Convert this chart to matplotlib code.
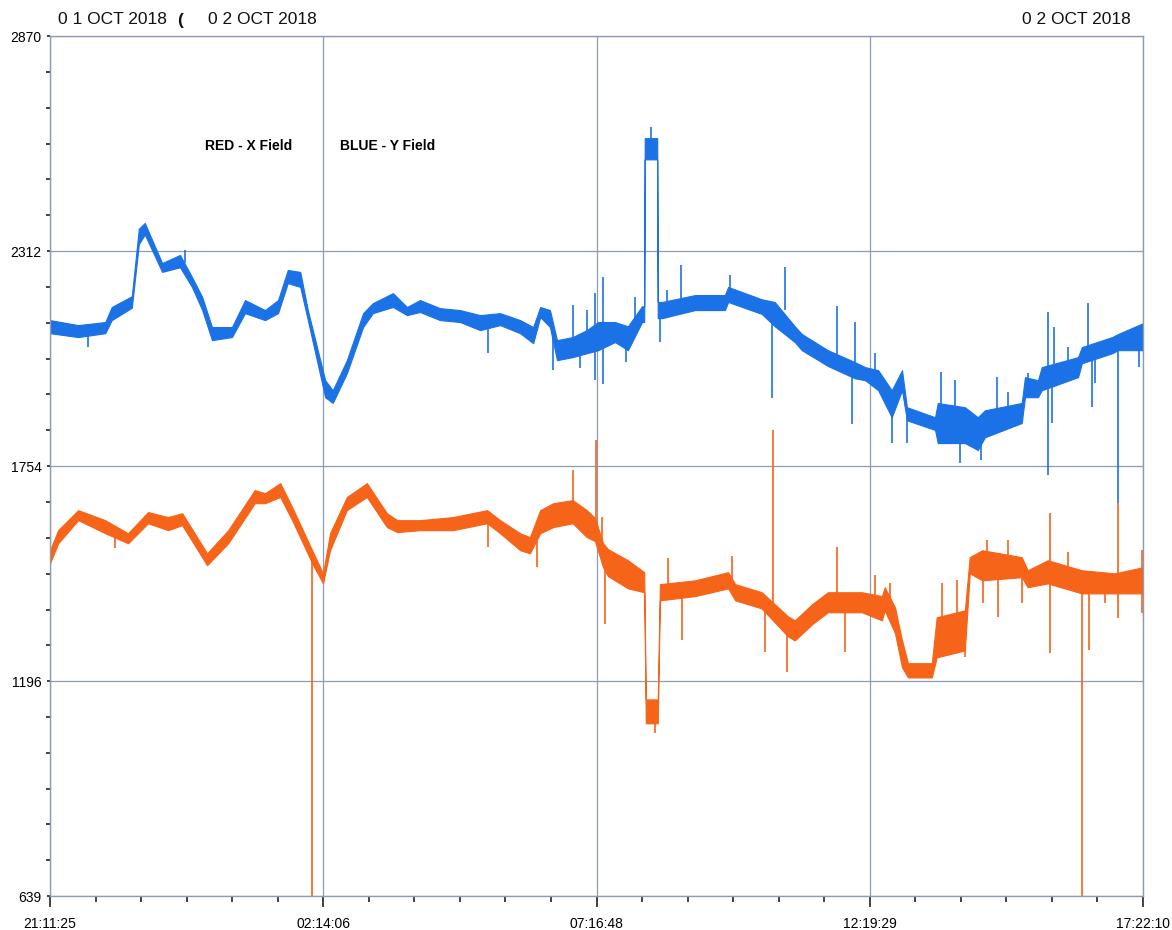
import numpy as np
import matplotlib
matplotlib.use("Agg")
import matplotlib.pyplot as plt

plt.rcParams['font.family'] = ['Liberation Sans', 'DejaVu Sans']

# time axis: hours after 21:11:25 (01 Oct 2018)
tick_labels = ["21:11:25", "02:14:06", "07:16:48", "12:19:29", "17:22:10"]
y_ticks = [639, 1196, 1754, 2312, 2870]

# BLUE - Y field, band of the noisy trace (lower / upper edge)
blue_t = [0.00, 0.52, 1.02, 1.14, 1.51, 1.64, 1.75, 2.07, 2.40, 2.62,
          2.81, 2.99, 3.36, 3.60, 3.97, 4.21, 4.39, 4.62, 4.76, 5.08,
          5.22, 5.48, 5.78, 5.96, 6.33, 6.59, 6.83, 7.20, 7.57, 7.94,
          8.31, 8.68, 8.92, 9.05, 9.23, 9.36, 9.65, 9.91, 10.12, 10.43,
          10.67, 10.93, 10.97, 10.98, 11.21, 11.22, 11.30, 11.91, 12.46, 12.52,
          13.14, 13.38, 13.75, 13.88, 14.36, 14.86, 15.05, 15.29, 15.54, 15.73,
          15.82, 16.34, 16.39, 16.89, 17.13, 17.26, 17.94, 18.00, 18.24, 18.31,
          18.98, 19.05, 19.61, 19.72, 20.18]
blue_hi = [2133, 2120, 2128, 2167, 2195, 2370, 2385, 2281, 2302, 2245,
           2193, 2115, 2115, 2185, 2159, 2185, 2263, 2258, 2159, 1977,
           1951, 2029, 2151, 2177, 2203, 2167, 2185, 2164, 2159, 2146,
           2151, 2133, 2115, 2167, 2159, 2081, 2089, 2107, 2128, 2128,
           2117, 2169, 2169, 2605, 2605, 2180, 2180, 2198, 2198, 2219,
           2187, 2180, 2117, 2097, 2055, 2024, 2011, 2003, 1951, 2003,
           1907, 1881, 1918, 1907, 1881, 1899, 1918, 1985, 1977, 2011,
           2037, 2063, 2089, 2097, 2125]
blue_lo = [2099, 2089, 2099, 2133, 2165, 2330, 2355, 2258, 2270, 2219,
           2159, 2081, 2089, 2151, 2133, 2151, 2229, 2219, 2133, 1933,
           1918, 1995, 2115, 2151, 2167, 2146, 2154, 2133, 2128, 2107,
           2120, 2099, 2073, 2141, 2115, 2029, 2037, 2047, 2055, 2076,
           2055, 2128, 2128, 2550, 2550, 2138, 2138, 2159, 2159, 2180,
           2149, 2117, 2076, 2055, 2014, 1982, 1977, 1951, 1881, 1951,
           1873, 1848, 1814, 1814, 1796, 1829, 1866, 1933, 1933, 1951,
           1985, 2021, 2047, 2055, 2055]

# isolated blue spikes: time, value at the band, value at the tip
blue_spike_t = [0.70, 2.49, 8.09, 9.29, 9.65, 9.78, 9.91, 10.06, 10.06, 10.21,
                10.21, 10.63, 10.80, 11.10, 11.26, 11.39, 11.65, 12.55, 13.33, 13.57,
                14.53, 14.81, 14.86, 15.23, 15.54, 15.82, 16.45, 16.71, 16.80, 17.18,
                17.48, 17.69, 18.05, 18.42, 18.42, 18.50, 18.53, 18.79, 19.16, 19.23,
                19.29, 19.72, 20.10]
blue_spike_base = [2105, 2280, 2125, 2100, 2060, 2080, 2080, 2110, 2080, 2100,
                   2090, 2090, 2120, 2570, 2150, 2170, 2175, 2195, 2165, 2160,
                   2040, 2000, 2000, 1990, 1900, 1890, 1860, 1860, 1830, 1830,
                   1860, 1890, 1950, 1960, 1960, 1960, 1960, 2010, 2040, 2040,
                   2060, 2070, 2085]
blue_spike_tip = [2063, 2315, 2047, 2003, 2172, 2010, 2159, 2203, 1977, 2245,
                  1967, 2024, 2193, 2634, 2076, 2211, 2276, 2250, 1930, 2270,
                  2169, 1863, 2128, 2047, 1814, 1814, 1998, 1977, 1762, 1770,
                  1985, 1946, 1995, 2154, 1731, 1866, 2115, 2063, 2177, 1907,
                  1969, 1658, 2011]

# RED - X field
red_t = [0.00, 0.15, 0.52, 1.02, 1.44, 1.81, 2.18, 2.44, 2.90, 3.29,
         3.78, 3.97, 4.25, 4.47, 4.84, 5.04, 5.17, 5.48, 5.85, 6.22,
         6.41, 6.83, 7.44, 8.07, 8.31, 8.68, 8.86, 9.05, 9.29, 9.65,
         9.91, 10.06, 10.21, 10.30, 10.67, 10.97, 11.00, 11.22, 11.26, 11.91,
         12.52, 12.65, 13.14, 13.62, 13.75, 14.07, 14.36, 14.99, 15.36, 15.41,
         15.60, 15.73, 15.84, 16.28, 16.37, 16.89, 16.98, 17.21, 17.94, 18.05,
         18.42, 19.05, 19.66, 20.18]
red_hi = [1536, 1588, 1640, 1614, 1580, 1635, 1622, 1632, 1528, 1588,
          1692, 1684, 1710, 1648, 1536, 1476, 1580, 1674, 1710, 1632,
          1614, 1614, 1622, 1640, 1614, 1580, 1570, 1640, 1658, 1666,
          1640, 1620, 1554, 1539, 1510, 1479, 1149, 1149, 1448, 1458,
          1479, 1448, 1427, 1365, 1354, 1396, 1427, 1427, 1417, 1440,
          1388, 1302, 1243, 1243, 1362, 1380, 1518, 1536, 1518, 1484,
          1510, 1484, 1476, 1492]
red_lo = [1502, 1554, 1614, 1580, 1554, 1606, 1588, 1601, 1497, 1554,
          1658, 1658, 1674, 1614, 1502, 1450, 1536, 1640, 1674, 1596,
          1583, 1588, 1588, 1606, 1580, 1536, 1528, 1580, 1596, 1606,
          1570, 1560, 1492, 1469, 1437, 1427, 1087, 1087, 1406, 1417,
          1437, 1406, 1385, 1313, 1302, 1344, 1375, 1375, 1354, 1380,
          1321, 1232, 1206, 1206, 1258, 1276, 1476, 1458, 1466, 1440,
          1450, 1424, 1424, 1424]

red_spike_t = [1.20, 4.84, 8.09, 8.99, 9.65, 10.08, 10.19, 10.25, 11.17, 11.41,
               11.67, 12.59, 13.20, 13.35, 13.60, 14.53, 14.68, 15.23, 15.51, 16.47,
               16.74, 16.89, 17.22, 17.30, 17.50, 17.69, 17.94, 18.46, 18.46, 18.79,
               19.05, 19.18, 19.48, 19.72, 19.72, 20.16, 20.16]
red_spike_base = [1590, 1520, 1620, 1560, 1630, 1560, 1540, 1500, 1120, 1425,
                  1440, 1460, 1400, 1400, 1340, 1400, 1400, 1400, 1400, 1310,
                  1310, 1330, 1500, 1500, 1490, 1500, 1480, 1480, 1480, 1460,
                  1455, 1455, 1450, 1450, 1450, 1460, 1460]
red_spike_tip = [1541, 639, 1544, 1492, 1744, 1822, 1622, 1344, 1061, 1515,
                 1302, 1521, 1271, 1848, 1220, 1544, 1271, 1471, 1450, 1450,
                 1458, 1258, 1399, 1562, 1362, 1562, 1399, 1632, 1269, 1531,
                 639, 1276, 1399, 1658, 1360, 1536, 1373]

blue_col = '#1b72e6'
red_col = '#f66419'
grid_col = '#8d9cb0'


def clock_to_hours(s, start):
    h, m, sec = [int(v) for v in s.split(':')]
    hs, ms, ss = [int(v) for v in start.split(':')]
    d = (h * 3600 + m * 60 + sec) - (hs * 3600 + ms * 60 + ss)
    return (d % 86400) / 3600.0


x_ticks = [clock_to_hours(s, tick_labels[0]) for s in tick_labels]

W, H = 1172, 930
fig = plt.figure(figsize=(W / 100, H / 100), dpi=100)
ax = fig.add_axes([50 / W, 1 - 896 / H, (1143 - 50) / W, (896 - 36) / H])

ax.fill_between(blue_t, blue_lo, blue_hi, color=blue_col, lw=0.8)
ax.vlines(blue_spike_t, blue_spike_base, blue_spike_tip, color=blue_col, lw=1.2)
ax.fill_between(red_t, red_lo, red_hi, color=red_col, lw=0.8)
ax.vlines(red_spike_t, red_spike_base, red_spike_tip, color=red_col, lw=1.2)

ax.set_xlim(x_ticks[0], x_ticks[-1])
ax.set_ylim(y_ticks[0], y_ticks[-1])
ax.set_xticks(x_ticks)
ax.set_xticklabels(tick_labels)
ax.set_yticks(y_ticks)
ax.set_yticklabels([str(v) for v in y_ticks])

minor_x = []
for a, b in zip(x_ticks[:-1], x_ticks[1:]):
    minor_x += list(np.linspace(a, b, 7)[1:-1])
minor_y = []
for a, b in zip(y_ticks[:-1], y_ticks[1:]):
    minor_y += list(np.linspace(a, b, 7)[1:-1])
ax.set_xticks(minor_x, minor=True)
ax.set_yticks(minor_y, minor=True)

ax.tick_params(axis='x', which='major', direction='out', length=8, width=1.2,
               pad=7, labelsize=10, color='#222222')
ax.tick_params(axis='x', which='minor', direction='out', length=4, width=1.2,
               color='#222222')
ax.tick_params(axis='y', which='major', direction='out', length=2, width=1.2,
               pad=4, labelsize=10, color='#222222')
ax.tick_params(axis='y', which='minor', direction='out', length=3, width=1.2,
               color='#222222')

ax.grid(True, which='major', color=grid_col, lw=0.9)
ax.set_axisbelow(True)
for sp in ax.spines.values():
    sp.set_color(grid_col)
    sp.set_linewidth(1.0)

# handwritten dates on the sheet
hand = dict(fontsize=12.5, color='#111111', va='center', ha='left')
fig.text(58 / W, 1 - 20 / H, "0 1 OCT 2018", **hand)
fig.text(177 / W, 1 - 20 / H, "(", fontweight='bold', **hand)
fig.text(208 / W, 1 - 20 / H, "0 2 OCT 2018", **hand)
fig.text(1022 / W, 1 - 20 / H, "0 2 OCT 2018", **hand)

fig.text(205 / W, 1 - 146 / H, "RED - X Field", fontsize=10, fontweight='bold',
         va='center', ha='left')
fig.text(340 / W, 1 - 146 / H, "BLUE - Y Field", fontsize=10, fontweight='bold',
         va='center', ha='left')

fig.savefig('out.png', dpi=100)
